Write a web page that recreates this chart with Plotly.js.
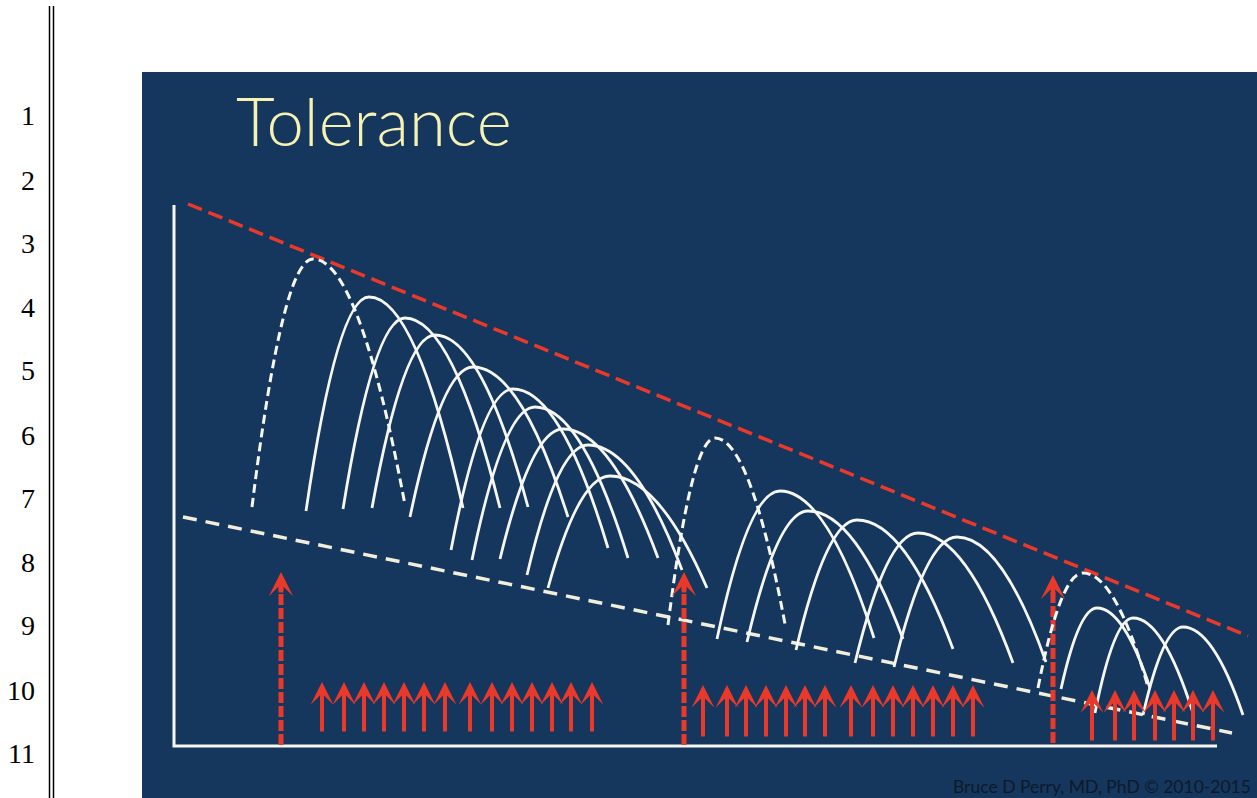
<!DOCTYPE html>
<html><head><meta charset="utf-8">
<script src="https://cdn.plot.ly/plotly-3.0.1.min.js"></script>
<style>html,body{margin:0;padding:0;background:#fff;overflow:hidden}#chart{width:1257px;height:798px}</style>
</head><body><div id="chart"></div>
<script>
// ---- text ----
const lineNumbers = ['1','2','3','4','5','6','7','8','9','10','11'];
const lineNumberY = [115,180,243,307,370,435,498,562,625,690,753];
const titleText = 'Tolerance';
const creditText = 'Bruce D Perry, MD, PhD \u00A9 2010-2015';

// ---- response curves (foot / peak / foot), in slide coordinates ----
const humpDashed = [true,false,false,false,false,false,false,false,false,false,
                    true,false,false,false,false,false,
                    true,false,false,false];
const humpLeftX  = [252,306,343,372,410,451,472,500,527,548, 668,717,747,796,855,894, 1038,1061,1095,1143];
const humpLeftY  = [507,511,509,508,517,550,560,559,575,588, 625,639,642,650,663,667, 688,689,713,715];
const humpPeakX  = [313,369,405,435,473,513,535,563,588,610, 715,780,808,857,918,957, 1083,1097,1133,1183];
const humpPeakY  = [259,297,318,335,367,389,407,429,445,476, 438,491,511,520,533,537, 573,608,618,627];
const humpRightX = [405,463,500,528,568,608,628,658,682,707, 785,874,903,953,1013,1046, 1148,1150,1193,1243];
const humpRightY = [505,508,508,507,517,548,558,558,570,588, 624,638,639,649,663,662, 687,688,713,715];

// ---- dose arrows ----
const arrowX = [322,344,364,384,404,424,445,470,492,512,532,552,571,592,
                703,727,746,766,786,805,825,851,873,893,913,933,953,973,
                1092,1115,1134,1155,1174,1193,1213];
const arrowTopY = [682,682,682,682,682,682,682,682,682,682,682,682,682,682,
                   685,685,685,685,685,685,685,685,685,685,685,685,685,685,
                   690,690,690,690,690,690,690];
const arrowBottomY = [733,733,733,733,733,733,733,733,733,733,733,733,733,733,
                      738,738,738,738,738,738,738,738,738,738,738,738,738,738,
                      742,742,742,742,742,742,742];
const bigArrowX = [281,684,1053];
const bigArrowTopY = [572,572,575];
const bigArrowBottomY = [745,745,743];

// ---- guide lines ----
const peakLineX = [188,1248], peakLineY = [204,636];
const baseLineX = [183,1232], baseLineY = [517,733];
const axisX = [174,174,1217], axisY = [205,746,746];

const RED = '#e8392a', WHITE = '#f7f7f2', CREAM = '#f1eedb', NAVY = '#15365d';

const traces = [];
traces.push({x:axisX, y:axisY, mode:'lines', line:{color:WHITE, width:3}, hoverinfo:'skip'});
traces.push({x:baseLineX, y:baseLineY, mode:'lines', line:{color:CREAM, width:3.5, dash:'14px,9px'}, hoverinfo:'skip'});
traces.push({x:peakLineX, y:peakLineY, mode:'lines', line:{color:RED, width:3.5, dash:'15px,7px'}, hoverinfo:'skip'});
bigArrowX.forEach((bx,i)=>{
  traces.push({x:[bx,bx], y:[bigArrowBottomY[i], bigArrowTopY[i]+12], mode:'lines',
    line:{color:RED, width:5, dash:'11px,3px'}, hoverinfo:'skip'});
});

const shapes = [];
shapes.push({type:'rect', xref:'x', yref:'y', x0:142, x1:1257, y0:72, y1:798, fillcolor:NAVY, line:{width:0}, layer:'below'});
shapes.push({type:'line', xref:'x', yref:'y', x0:49.5, x1:49.5, y0:6, y1:798, line:{color:'#000', width:1.5}});
shapes.push({type:'line', xref:'x', yref:'y', x0:53.5, x1:53.5, y0:6, y1:798, line:{color:'#000', width:1.5}});
for (let i=0;i<humpPeakX.length;i++){
  const lx=humpLeftX[i], ly=humpLeftY[i], px=humpPeakX[i], py=humpPeakY[i], rx=humpRightX[i], ry=humpRightY[i];
  const path = `M${lx},${ly} Q${(lx+px)/2},${py} ${px},${py} Q${(px+rx)/2},${py} ${rx},${ry}`;
  shapes.push({type:'path', xref:'x', yref:'y', path:path,
    line:{color:WHITE, width: humpDashed[i]?3:2.8, dash: humpDashed[i]?'9px,5px':'solid'}});
}

const annotations = [];
lineNumbers.forEach((t,i)=>{
  annotations.push({x:37, y:lineNumberY[i], xref:'x', yref:'y', text:t, showarrow:false,
    xanchor:'right', yanchor:'middle', font:{family:'Liberation Serif', size:28, color:'#000'}});
});
annotations.push({x:234, y:120, xref:'x', yref:'y', text:titleText, showarrow:false,
  xanchor:'left', yanchor:'middle', font:{family:'Lato', size:67, color:'#f6f2b4', weight:300}});
annotations.push({x:1253, y:786, xref:'x', yref:'y', text:creditText, showarrow:false,
  xanchor:'right', yanchor:'middle', font:{family:'Lato', size:17.5, color:'#0d1a2b'}});
arrowX.forEach((ax,i)=>{
  annotations.push({x:ax, y:arrowTopY[i], ax:ax, ay:arrowBottomY[i], xref:'x', yref:'y', axref:'x', ayref:'y',
    text:'', showarrow:true, arrowhead:3, arrowsize:0.95, arrowwidth:4, arrowcolor:RED, standoff:0});
});
bigArrowX.forEach((bx,i)=>{
  annotations.push({x:bx, y:bigArrowTopY[i], ax:bx, ay:bigArrowTopY[i]+22, xref:'x', yref:'y', axref:'x', ayref:'y',
    text:'', showarrow:true, arrowhead:3, arrowsize:0.9, arrowwidth:4.5, arrowcolor:RED, standoff:0});
});

const layout = {
  width:1257, height:798, margin:{l:0,r:0,t:0,b:0},
  paper_bgcolor:'#ffffff', plot_bgcolor:'#ffffff', showlegend:false,
  xaxis:{range:[0,1257], visible:false, fixedrange:true},
  yaxis:{range:[798,0], visible:false, fixedrange:true},
  shapes:shapes, annotations:annotations
};
Plotly.newPlot('chart', traces, layout, {displayModeBar:false, staticPlot:true});
</script>
</body></html>
